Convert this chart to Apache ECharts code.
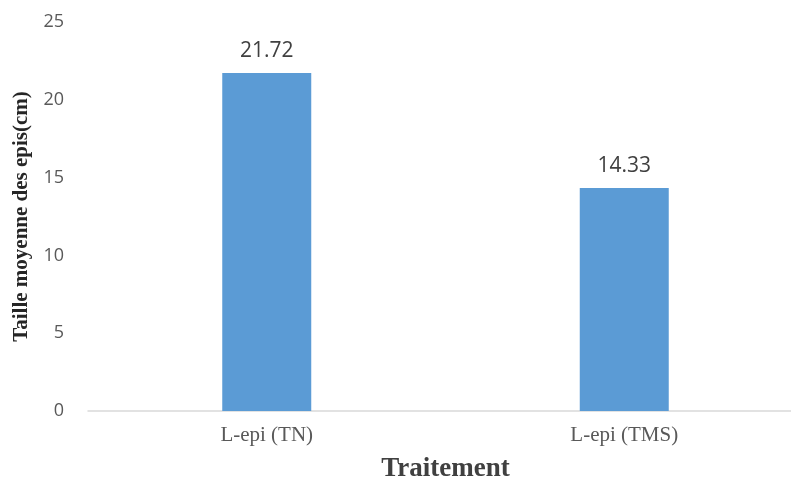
<!DOCTYPE html>
<html><head><meta charset="utf-8">
<script src="https://cdn.jsdelivr.net/npm/echarts@6/dist/echarts.min.js"></script>
<style>html,body{margin:0;padding:0;background:#fff;overflow:hidden}#c{width:791px;height:481px}</style>
</head><body><div id="c"></div>
<script>
var categories = ['L-epi (TN)', 'L-epi (TMS)'];
var values = [21.72, 14.33];
var yTicks = {min: 0, max: 25, interval: 5};

var chart = echarts.init(document.getElementById('c'), null, {renderer: 'canvas'});
chart.setOption({
  animation: false,
  grid: {left: 88, top: 22, height: 389, width: 715, containLabel: false, outerBoundsMode: 'none'},
  xAxis: {
    type: 'category',
    data: categories,
    axisLine: {lineStyle: {color: '#d9d9d9', width: 1.5}},
    axisTick: {show: false},
    axisLabel: {fontFamily: 'Liberation Serif', fontSize: 21, color: '#595959', margin: 14},
    name: 'Traitement',
    nameLocation: 'middle',
    nameGap: 45,
    nameTextStyle: {fontFamily: 'Liberation Serif', fontSize: 27, color: '#404040', fontWeight: 'bold'}
  },
  yAxis: {
    type: 'value',
    min: yTicks.min, max: yTicks.max, interval: yTicks.interval,
    axisLine: {show: false},
    axisTick: {show: false},
    splitLine: {show: false},
    axisLabel: {fontFamily: 'Open Sans', fontSize: 18, color: '#595959', margin: 24},
    name: 'Taille moyenne des epis(cm)',
    nameLocation: 'middle',
    nameGap: 50,
    nameTextStyle: {fontFamily: 'Liberation Serif', fontSize: 21, color: '#262626', fontWeight: 'bold'}
  },
  series: [{
    type: 'bar',
    data: values,
    barWidth: 89,
    itemStyle: {color: '#5B9BD5'},
    label: {show: true, position: 'top', distance: 12, fontFamily: 'Open Sans', fontSize: 21, color: '#404040', formatter: function(p){return p.value.toFixed(2);}}
  }]
});
</script></body></html>
